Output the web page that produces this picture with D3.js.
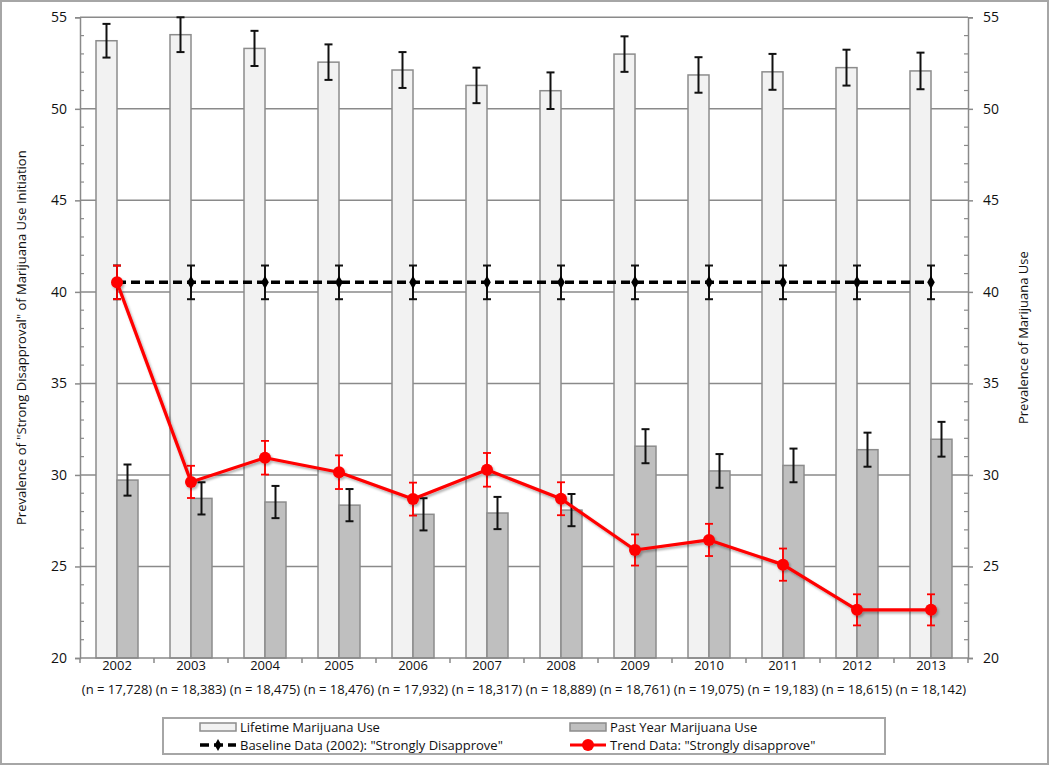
<!DOCTYPE html>
<html>
<head>
<meta charset="utf-8">
<script src="https://cdn.jsdelivr.net/npm/d3@7"></script>
<style>
  body { margin: 0; background: #fff; }
  svg { display: block; font-family: "Open Sans", "DejaVu Sans", sans-serif; }
</style>
</head>
<body>
<svg id="chart" width="1050" height="766"></svg>
<script>
const years = ["2002","2003","2004","2005","2006","2007","2008","2009","2010","2011","2012","2013"];
const sampleSizes = ["17,728","18,383","18,475","18,476","17,932","18,317","18,889","18,761","19,075","19,183","18,615","18,142"];
const lifetimeUse = [53.72, 54.05, 53.30, 52.55, 52.12, 51.28, 50.99, 52.99, 51.85, 52.02, 52.25, 52.07];
const lifetimeErr = [0.92, 0.95, 0.96, 0.97, 0.98, 0.97, 1.00, 0.97, 0.97, 0.98, 0.98, 1.00];
const pastYearUse = [29.72, 28.72, 28.52, 28.35, 27.85, 27.92, 28.08, 31.57, 30.22, 30.52, 31.38, 31.95];
const pastYearErr = [0.85, 0.88, 0.88, 0.88, 0.88, 0.88, 0.88, 0.93, 0.92, 0.92, 0.93, 0.95];
const baseline = [40.52, 40.52, 40.52, 40.52, 40.52, 40.52, 40.52, 40.52, 40.52, 40.52, 40.52, 40.52];
const baselineErr = [0.92, 0.92, 0.92, 0.92, 0.92, 0.92, 0.92, 0.92, 0.92, 0.92, 0.92, 0.92];
const trend = [40.52, 29.62, 30.94, 30.15, 28.68, 30.28, 28.70, 25.90, 26.45, 25.10, 22.63, 22.63];
const trendErr = [0.92, 0.88, 0.92, 0.92, 0.90, 0.92, 0.90, 0.85, 0.88, 0.88, 0.85, 0.85];
const yTicks = [20, 25, 30, 35, 40, 45, 50, 55];
const leftTitle = 'Prevalence of "Strong Disapproval" of Marijuana Use Initiation';
const rightTitle = 'Prevalence of Marijuana Use';
const legendLabels = ["Lifetime Marijuana Use", "Past Year Marijuana Use", 'Baseline Data (2002): "Strongly Disapprove"', 'Trend Data: "Strongly disapprove"'];

const svg = d3.select("#chart");
const L = 80, R = 968, T = 17.3, B = 658;
const gridColor = "#8a8a8a";
const textColor = "#111";

const x = d3.scaleBand().domain(years).range([L, R]).padding(0);
const yL = d3.scaleLinear().domain([20, 55]).range([B, T]);
const yR = d3.scaleLinear().domain([20, 55]).range([B, T]);
const cx = (i) => x(years[i]) + x.bandwidth() / 2;
const barW = 21;

const defs = svg.append("defs");
const f = defs.append("filter").attr("id", "shadow").attr("x", "-10%").attr("y", "-10%").attr("width", "120%").attr("height", "130%");
f.append("feDropShadow").attr("dx", 1.5).attr("dy", 2).attr("stdDeviation", 1.2).attr("flood-color", "#000").attr("flood-opacity", 0.3);

// outer border
svg.append("rect").attr("x", 1).attr("y", 1).attr("width", 1047).attr("height", 763)
  .attr("fill", "#fff").attr("stroke", "#a6a6a6").attr("stroke-width", 2);

// gridlines
svg.append("g").selectAll("line").data(yTicks.filter(d => d > 20)).join("line")
  .attr("x1", L).attr("x2", R).attr("y1", d => yL(d)).attr("y2", d => yL(d))
  .attr("stroke", gridColor).attr("stroke-width", 1.5);

// axes
const leftAxis = svg.append("g").attr("transform", `translate(${L},0)`)
  .call(d3.axisLeft(yL).tickValues(yTicks).tickSize(5).tickPadding(8).tickFormat(d3.format("d")));
const rightAxis = svg.append("g").attr("transform", `translate(${R},0)`)
  .call(d3.axisRight(yR).tickValues(yTicks).tickSize(5).tickPadding(10).tickFormat(d3.format("d")));
[leftAxis, rightAxis].forEach(g => {
  g.select(".domain").attr("stroke", gridColor).attr("stroke-width", 1.5);
  g.selectAll(".tick line").attr("stroke", gridColor).attr("stroke-width", 1.5);
  g.selectAll(".tick text").attr("font-size", 14).attr("fill", textColor).attr("font-family", '"Open Sans", sans-serif');
});
// minor ticks (inside)
const minor = d3.range(20, 55.01, 1).filter(d => d % 5 !== 0);
svg.append("g").selectAll("line").data(minor).join("line")
  .attr("x1", L).attr("x2", L + 4).attr("y1", d => yL(d)).attr("y2", d => yL(d))
  .attr("stroke", gridColor).attr("stroke-width", 1.2);
svg.append("g").selectAll("line").data(minor).join("line")
  .attr("x1", R - 4).attr("x2", R).attr("y1", d => yR(d)).attr("y2", d => yR(d))
  .attr("stroke", gridColor).attr("stroke-width", 1.2);

// bars
const bars = svg.append("g");
bars.selectAll("rect.life").data(lifetimeUse).join("rect").attr("class", "life")
  .attr("x", (d, i) => cx(i) - barW).attr("width", barW)
  .attr("y", d => yR(d)).attr("height", d => yR(20) - yR(d))
  .attr("fill", "#f2f2f2").attr("stroke", "#8c8c8c").attr("stroke-width", 1.5);
bars.selectAll("rect.past").data(pastYearUse).join("rect").attr("class", "past")
  .attr("x", (d, i) => cx(i)).attr("width", barW)
  .attr("y", d => yR(d)).attr("height", d => yR(20) - yR(d))
  .attr("fill", "#bfbfbf").attr("stroke", "#8c8c8c").attr("stroke-width", 1.5);

function errorBars(g, vals, errs, scale, xf, color, cap, width) {
  const eg = g.append("g").attr("stroke", color).attr("stroke-width", width);
  vals.forEach((v, i) => {
    const xx = xf(i);
    const y1 = Math.max(scale(v + errs[i]), T), y2 = scale(v - errs[i]);
    eg.append("line").attr("x1", xx).attr("x2", xx).attr("y1", y1).attr("y2", y2);
    eg.append("line").attr("x1", xx - cap).attr("x2", xx + cap).attr("y1", y1).attr("y2", y1);
    eg.append("line").attr("x1", xx - cap).attr("x2", xx + cap).attr("y1", y2).attr("y2", y2);
  });
}
errorBars(svg, lifetimeUse, lifetimeErr, yR, i => cx(i) - barW / 2, "#111", 4, 2);
errorBars(svg, pastYearUse, pastYearErr, yR, i => cx(i) + barW / 2, "#111", 4, 2);

// bottom axis
const bottom = svg.append("g").attr("transform", `translate(0,${B})`);
bottom.append("line").attr("x1", L).attr("x2", R).attr("stroke", gridColor).attr("stroke-width", 1.5);
bottom.selectAll("line.tk").data(d3.range(years.length + 1)).join("line").attr("class", "tk")
  .attr("x1", i => L + i * x.bandwidth()).attr("x2", i => L + i * x.bandwidth())
  .attr("y1", 0).attr("y2", 5).attr("stroke", gridColor).attr("stroke-width", 1.5);
bottom.selectAll("text.yr").data(years).join("text").attr("class", "yr")
  .attr("x", (d, i) => cx(i)).attr("y", 12).attr("text-anchor", "middle")
  .attr("font-size", 13).attr("fill", textColor).text(d => d);
bottom.selectAll("text.n").data(sampleSizes).join("text").attr("class", "n")
  .attr("x", (d, i) => cx(i)).attr("y", 36).attr("text-anchor", "middle")
  .attr("font-size", 13).attr("fill", textColor).text(d => `(n = ${d})`);

// baseline dashed line
const line = d3.line().x((d, i) => cx(i)).y(d => yL(d));
errorBars(svg, baseline, baselineErr, yL, cx, "#111", 4, 2);
svg.append("path").datum(baseline).attr("d", line).attr("fill", "none")
  .attr("stroke", "#000").attr("stroke-width", 3.5).attr("stroke-dasharray", "9,5");
const diamond = d3.symbol().type(d3.symbolDiamond).size(50);
svg.append("g").selectAll("path").data(baseline).join("path")
  .attr("transform", (d, i) => `translate(${cx(i)},${yL(d)})`).attr("d", diamond).attr("fill", "#000");

// trend line
errorBars(svg, trend, trendErr, yL, cx, "#ff0000", 4, 1.8);
const tg = svg.append("g").attr("filter", "url(#shadow)");
tg.append("path").datum(trend).attr("d", line).attr("fill", "none")
  .attr("stroke", "#ff0000").attr("stroke-width", 3.2).attr("stroke-linejoin", "round");
tg.selectAll("circle").data(trend).join("circle")
  .attr("cx", (d, i) => cx(i)).attr("cy", d => yL(d)).attr("r", 6).attr("fill", "#ff0000");

// axis titles
svg.append("text").attr("transform", `translate(26,${(T + B) / 2}) rotate(-90)`)
  .attr("text-anchor", "middle").attr("font-size", 13).attr("fill", textColor).text(leftTitle);
svg.append("text").attr("transform", `translate(1028,${(T + B) / 2}) rotate(-90)`)
  .attr("text-anchor", "middle").attr("font-size", 13).attr("fill", textColor).text(rightTitle);

// legend
const lg = svg.append("g");
lg.append("rect").attr("x", 163).attr("y", 718).attr("width", 722).attr("height", 36)
  .attr("fill", "#fff").attr("stroke", "#a6a6a6").attr("stroke-width", 2);
const items = [
  { x: 200, y: 727, type: "rect", fill: "#f2f2f2" },
  { x: 570, y: 727, type: "rect", fill: "#bfbfbf" },
  { x: 200, y: 745, type: "base" },
  { x: 570, y: 745, type: "trend" }
];
const legDiamond = d3.symbol().type(d3.symbolDiamond).size(40);
items.forEach((it, k) => {
  if (it.type === "rect") {
    lg.append("rect").attr("x", it.x).attr("y", it.y - 4).attr("width", 36).attr("height", 8)
      .attr("fill", it.fill).attr("stroke", "#8c8c8c").attr("stroke-width", 1.5);
  } else if (it.type === "base") {
    lg.append("line").attr("x1", it.x).attr("x2", it.x + 36).attr("y1", it.y).attr("y2", it.y)
      .attr("stroke", "#000").attr("stroke-width", 3.5).attr("stroke-dasharray", "9,5");
    lg.append("path").attr("transform", `translate(${it.x + 18},${it.y})`).attr("d", legDiamond).attr("fill", "#000");
  } else {
    lg.append("line").attr("x1", it.x).attr("x2", it.x + 36).attr("y1", it.y).attr("y2", it.y)
      .attr("stroke", "#ff0000").attr("stroke-width", 3.2);
    lg.append("circle").attr("cx", it.x + 18).attr("cy", it.y).attr("r", 6).attr("fill", "#ff0000");
  }
  lg.append("text").attr("x", it.x + 40).attr("y", it.y + 4.5).attr("font-size", 13)
    .attr("fill", textColor).text(legendLabels[k]);
});
</script>
</body>
</html>
